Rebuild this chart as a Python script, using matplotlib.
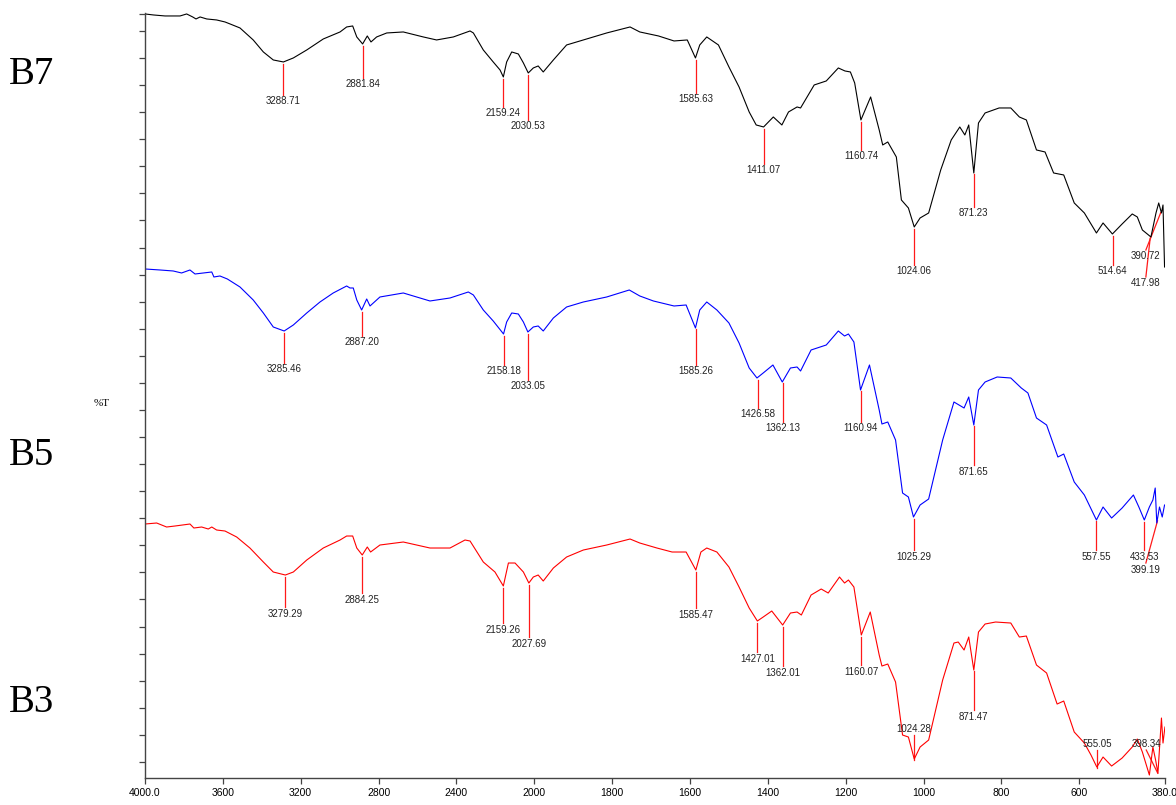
"""FTIR spectra of B7 / B5 / B3 stacked, with picked peaks."""

import matplotlib
matplotlib.use("Agg")
import matplotlib.pyplot as plt
import numpy as np

# --- data (stacked %T, arbitrary offset units) ---
b7_wn = [4000, 3957, 3897, 3854, 3820, 3786, 3755, 3738, 3717, 3683, 3632, 3589, 3563,
         3512, 3444, 3392, 3341, 3289, 3238, 3169, 3084, 2998, 2964, 2933, 2912, 2882,
         2858, 2839, 2810, 2758, 2673, 2570, 2502, 2416, 2330, 2313, 2262, 2211, 2176,
         2159, 2142, 2116, 2082, 2056, 2031, 2005, 1990, 1977, 1951, 1917, 1874, 1814,
         1754, 1729, 1681, 1641, 1607, 1586, 1575, 1557, 1527, 1500, 1474, 1448, 1430,
         1411, 1386, 1364, 1347, 1325, 1316, 1281, 1250, 1219, 1202, 1188, 1177, 1161,
         1136, 1114, 1105, 1092, 1070, 1057, 1039, 1024, 1009, 987, 956, 929, 907, 894,
         884, 871, 859, 842, 806, 776, 754, 736, 710, 688, 666, 640, 613, 587, 556, 539,
         515, 490, 464, 451, 438, 416, 403, 396, 389, 385, 381]
b7_t = [76.4, 76.3, 76.2, 76.2, 76.2, 76.4, 76.1, 75.9, 76.1, 75.9, 75.8, 75.6, 75.4,
        75.0, 73.8, 72.6, 71.8, 71.6, 72.0, 72.8, 73.9, 74.6, 75.1, 75.2, 74.1, 73.4,
        74.2, 73.6, 74.1, 74.5, 74.6, 74.1, 73.8, 74.1, 74.7, 74.5, 72.8, 71.6, 70.8,
        70.1, 71.6, 72.6, 72.4, 71.5, 70.5, 71.0, 71.2, 70.6, 71.8, 73.3, 73.8, 74.5,
        75.1, 74.6, 74.2, 73.7, 73.8, 72.0, 73.3, 74.1, 73.3, 71.1, 69.1, 66.6, 65.3,
        65.1, 66.1, 65.3, 66.6, 67.1, 67.0, 69.3, 69.7, 71.0, 70.7, 70.6, 69.5, 65.8,
        68.1, 64.8, 63.3, 63.6, 62.1, 57.8, 57.0, 55.1, 56.0, 56.5, 60.8, 63.8, 65.1, 64.3,
        65.3, 60.5, 65.5, 66.5, 67.0, 67.0, 66.1, 65.8, 62.8, 62.6, 60.5, 60.3, 57.5, 56.5,
        54.5, 55.5, 54.4, 55.4, 56.4, 56.1, 54.8, 54.1, 56.5, 57.5, 56.5, 57.3, 51.1]

b5_wn = [4000, 3923, 3855, 3812, 3769, 3743, 3700, 3657, 3646, 3615, 3577, 3512, 3444,
         3392, 3341, 3285, 3238, 3169, 3101, 3033, 2964, 2947, 2930, 2912, 2887, 2861,
         2844, 2793, 2673, 2536, 2433, 2339, 2313, 2262, 2211, 2158, 2142, 2116, 2082,
         2056, 2033, 2005, 1990, 1977, 1951, 1917, 1874, 1814, 1756, 1729, 1694, 1641,
         1610, 1586, 1575, 1557, 1531, 1500, 1474, 1448, 1428, 1412, 1387, 1363, 1342,
         1325, 1316, 1289, 1250, 1219, 1203, 1193, 1179, 1162, 1139, 1114, 1107, 1092,
         1072, 1054, 1039, 1026, 1009, 987, 951, 922, 896, 884, 871, 859, 842, 811, 776,
         749, 732, 710, 684, 655, 640, 613, 587, 556, 539, 517, 490, 461, 447, 433, 420,
         411, 405, 401, 394, 387, 381]
b5_t = [50.9, 50.8, 50.7, 50.5, 50.8, 50.4, 50.5, 50.6, 50.1, 50.2, 49.9, 49.1, 47.8,
        46.5, 45.1, 44.7, 45.3, 46.5, 47.6, 48.5, 49.2, 49.0, 49.0, 47.8, 46.8, 47.9,
        47.2, 48.1, 48.5, 47.7, 48.0, 48.6, 48.3, 46.8, 45.7, 44.4, 45.6, 46.5, 46.4,
        45.6, 44.6, 45.1, 45.2, 44.7, 46.0, 47.1, 47.6, 48.1, 48.8, 48.2, 47.7, 47.2,
        47.3, 45.0, 46.8, 47.6, 46.8, 45.5, 43.5, 41.0, 40.0, 40.5, 41.3, 39.6, 41.0,
        41.1, 40.7, 42.8, 43.3, 44.7, 44.2, 44.4, 43.6, 38.8, 41.3, 36.8, 35.4, 35.6,
        33.8, 28.5, 28.1, 26.1, 27.3, 27.9, 33.8, 37.6, 37.0, 38.1, 35.3, 38.8, 39.6, 40.1,
        40.0, 39.0, 38.5, 36.0, 35.3, 32.1, 32.4, 29.6, 28.3, 25.8, 27.1, 26.0, 27.0, 28.3,
        27.1, 25.8, 27.1, 27.8, 29.0, 25.5, 27.1, 26.1, 27.3]

b3_wn = [4000, 3940, 3889, 3846, 3769, 3749, 3709, 3675, 3657, 3632, 3589, 3529, 3461,
         3392, 3341, 3279, 3238, 3169, 3084, 2998, 2964, 2933, 2912, 2884, 2858, 2841,
         2793, 2673, 2536, 2433, 2356, 2330, 2262, 2202, 2159, 2133, 2099, 2056, 2028,
         2005, 1990, 1977, 1951, 1917, 1874, 1814, 1754, 1729, 1685, 1646, 1610, 1585,
         1572, 1557, 1531, 1500, 1474, 1448, 1427, 1412, 1390, 1362, 1342, 1325, 1314,
         1289, 1263, 1245, 1216, 1203, 1193, 1179, 1160, 1137, 1114, 1107, 1092, 1072,
         1054, 1039, 1024, 1009, 987, 951, 922, 911, 896, 884, 871, 859, 842, 815, 776,
         754, 736, 710, 684, 657, 640, 613, 587, 570, 555, 539, 517, 490, 464, 451, 438,
         420, 411, 404, 398, 389, 385, 380]
b3_t = [25.4, 25.5, 25.1, 25.2, 25.4, 25.0, 25.1, 24.9, 25.1, 24.8, 24.7, 24.1, 23.0,
        21.6, 20.6, 20.3, 20.6, 21.8, 23.0, 23.8, 24.2, 24.2, 23.0, 22.3, 23.1, 22.6,
        23.3, 23.6, 23.0, 23.0, 23.8, 23.7, 21.6, 20.6, 19.2, 21.5, 21.5, 20.6, 19.5,
        20.1, 20.3, 19.7, 21.0, 22.1, 22.8, 23.3, 23.9, 23.5, 23.0, 22.6, 22.6, 20.8,
        22.6, 23.0, 22.6, 21.1, 19.1, 17.0, 15.7, 16.1, 16.7, 15.3, 16.5, 16.6, 16.3,
        18.3, 18.9, 18.5, 20.1, 19.5, 19.8, 19.1, 14.3, 16.6, 12.3, 11.2, 11.4, 9.6,
        4.3, 4.1, 1.9, 3.1, 3.8, 9.8, 13.5, 13.6, 12.8, 14.1, 10.8, 14.6, 15.4, 15.6, 15.5,
        14.1, 14.2, 11.3, 10.5, 7.4, 7.7, 4.6, 3.5, 2.3, 1.1, 2.1, 1.2, 2.0, 3.1, 3.9, 2.6,
        0.3, 3.1, 1.8, 0.5, 6.0, 3.5, 5.1]

b7_peaks = [3288.71, 2881.84, 2159.24, 2030.53, 1585.63, 1411.07, 1160.74, 1024.06,
            871.23, 514.64, 417.98, 390.72]
b5_peaks = [3285.46, 2887.20, 2158.18, 2033.05, 1585.26, 1426.58, 1362.13, 1160.94,
            1025.29, 871.65, 557.55, 433.53, 399.19]
b3_peaks = [3279.29, 2884.25, 2159.26, 2027.69, 1585.47, 1427.01, 1362.01, 1160.07,
            1024.28, 871.47, 555.05, 398.34]

tick_pos = [4000, 3600, 3200, 2800, 2400, 2000, 1800, 1600, 1400, 1200, 1000, 800, 600, 380]
tick_txt = ["4000.0", "3600", "3200", "2800", "2400", "2000", "1800", "1600", "1400",
            "1200", "1000", "800", "600", "380.0"]

# label layout: (y where the marker line ends, label x or None, label above?)
b7_lab = [(68.3, None, False), (70.0, None, False), (67.1, None, False), (65.8, None, False),
          (68.5, None, False), (61.4, None, False), (62.8, None, False), (51.3, None, False),
          (57.1, None, False), (51.3, None, False), (50.1, 429, False), (52.8, 429, False)]
b5_lab = [(41.5, None, False), (44.2, None, False), (41.3, None, False), (39.8, None, False),
          (41.3, None, False), (37.0, None, False), (35.6, None, False), (35.6, None, False),
          (22.8, None, False), (31.3, None, False), (22.8, None, False), (22.8, None, False),
          (21.5, 429, False)]
b3_lab = [(17.1, None, False), (18.5, None, False), (15.5, None, False), (14.1, None, False),
          (17.0, None, False), (12.6, None, False), (11.2, None, False), (11.3, None, False),
          (4.3, None, True), (6.8, None, False), (2.8, None, True), (2.8, 428, True)]

SMALL = ["Liberation Sans", "DejaVu Sans"]
PEAK_RED = "#ff1a1a"


def fwd(x):
    x = np.asarray(x, dtype=float)
    return np.where(x > 2000, 2000 + (x - 2000) / 2, x)


def inv(u):
    u = np.asarray(u, dtype=float)
    return np.where(u > 2000, 2000 + (u - 2000) * 2, u)


def mark_peaks(ax, wn, t, peaks, layout):
    wn_a = np.array(wn, dtype=float)[::-1]
    t_a = np.array(t, dtype=float)[::-1]
    for pk, (end, lx, above) in zip(peaks, layout):
        top = np.interp(pk, wn_a, t_a)
        lx = pk if lx is None else lx
        if above:
            ax.plot([lx, pk], [end, top - 0.1], color=PEAK_RED, lw=0.9, zorder=1)
            ax.text(lx, end + 0.1, f"{pk:.2f}", ha="center", va="bottom",
                    fontsize=7, family=SMALL, color="#222222")
        else:
            ax.plot([pk, lx], [top - 0.2, end], color=PEAK_RED, lw=0.9, zorder=1)
            ax.text(lx, end - 0.15, f"{pk:.2f}", ha="center", va="top",
                    fontsize=7, family=SMALL, color="#222222")


def main() -> None:
    fig = plt.figure(figsize=(11.76, 8.05), dpi=100)
    ax = fig.add_axes([0.1233, 0.0335, 0.8673, 0.9504])

    ax.set_xscale("function", functions=(fwd, inv))
    ax.set_xlim(4000, 380)
    ax.set_ylim(0, 76.5)

    for wn, t, color in [(b7_wn, b7_t, "black"), (b5_wn, b5_t, "#0000ff"), (b3_wn, b3_t, "#ff0000")]:
        ax.plot(wn, t, color=color, lw=0.8, zorder=2)

    mark_peaks(ax, b7_wn, b7_t, b7_peaks, b7_lab)
    mark_peaks(ax, b5_wn, b5_t, b5_peaks, b5_lab)
    mark_peaks(ax, b3_wn, b3_t, b3_peaks, b3_lab)

    ax.set_xticks(tick_pos)
    ax.set_xticklabels(tick_txt, fontsize=7.5, family=SMALL)
    ax.xaxis.set_minor_locator(matplotlib.ticker.NullLocator())
    ax.set_yticks(list(74.7 - 2.707 * np.arange(28)) + [76.4])
    ax.set_yticklabels([])
    ax.tick_params(axis="both", direction="out", length=4, width=0.9, color="#444444",
                   pad=3)
    for side in ("top", "right"):
        ax.spines[side].set_visible(False)
    for side in ("left", "bottom"):
        ax.spines[side].set_color("#444444")
        ax.spines[side].set_linewidth(1.0)

    fig.text(102 / 1176, 1 - 403 / 805, "%T", fontsize=8, family="Liberation Serif",
             ha="center", va="center")
    for name, yc in [("B7", 75), ("B5", 455), ("B3", 702)]:
        fig.text(31 / 1176, 1 - yc / 805, name, fontsize=28, family="Liberation Serif",
                 ha="center", va="center")

    fig.savefig("out.png", dpi=100)


if __name__ == "__main__":
    main()
